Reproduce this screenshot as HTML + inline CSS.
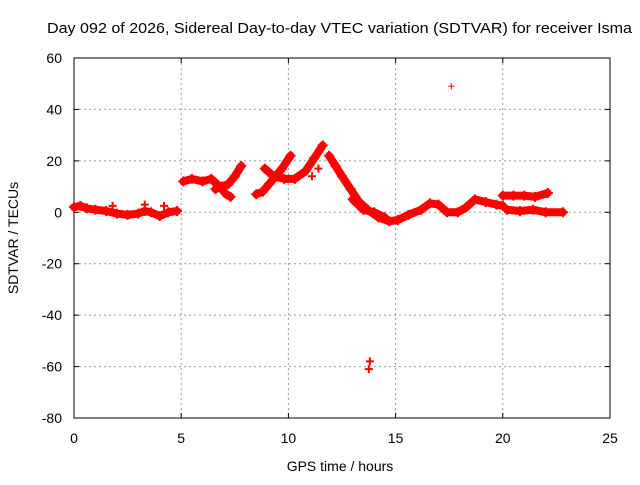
<!DOCTYPE html>
<html><head><meta charset="utf-8"><style>
body{margin:0;background:#fff}
svg text{font-family:"Liberation Sans",sans-serif;font-size:14px;fill:#000}
</style></head><body>
<svg id="chart" width="640" height="480">
<rect width="640" height="480" fill="#fff"/>
<text x="47" y="33" textLength="585" lengthAdjust="spacingAndGlyphs" style="font-size:15px">Day 092 of 2026, Sidereal Day-to-day VTEC variation (SDTVAR) for receiver Isma</text>
<text x="340" y="471" text-anchor="middle">GPS time / hours</text>
<text transform="translate(18,238) rotate(-90)" text-anchor="middle">SDTVAR / TECUs</text>
<g id="grid"></g><g id="axes"></g><g id="marks"></g>
</svg>
<script>
const xTicks=[0,5,10,15,20,25];
const yTicks=[60,40,20,0,-20,-40,-60,-80];
const trackA=[[0,2],[0.3,2.5],[0.6,1.5],[1,1],[1.5,0.5],[2,-0.5],[2.5,-1],[3,-0.5],[3.3,0.5],[3.6,0],[4,-1.5],[4.4,0],[4.8,0.5]];
const trackB1=[[5.1,12],[5.5,13],[6,12],[6.4,13],[6.8,10],[7.1,7],[7.3,6]];
const trackB2=[[6.6,9],[6.9,10],[7.2,11],[7.5,14],[7.8,18]];
const trackC1=[[8.5,7],[8.8,8],[9.1,11],[9.4,14],[9.7,17],[10.1,22]];
const trackC2=[[8.9,17],[9.3,14],[9.8,13],[10.3,13],[10.8,16],[11.2,21],[11.6,26]];
const trackD=[[11.9,22],[12.2,18],[12.5,14],[12.9,9],[13.3,4],[13.7,1],[14.2,-2],[14.7,-3.5],[15.1,-3],[15.6,-1],[16.2,1],[16.6,3.5],[17,3],[17.4,0],[17.9,0],[18.3,2],[18.7,5],[19.2,4],[19.7,3],[20,2.5]];
const trackD2=[[13,5],[13.5,1],[14,0],[14.5,-2]];
const trackE=[[20,6.5],[20.5,6.5],[21,6.5],[21.5,6],[22.1,7.5]];
const trackF=[[20.2,1],[20.8,0.5],[21.4,1],[22,0],[22.8,0]];
const outliers=[[17.6,49],[13.8,-58],[13.75,-61],[11.1,14],[11.4,17],[1.8,2.5],[3.3,3],[4.2,2.5]];
const X=h=>74+h*(536/25), Y=v=>58+(60-v)*(360/140);
const NS="http://www.w3.org/2000/svg";
function mk(t,a,p){const e=document.createElementNS(NS,t);for(const k in a)e.setAttribute(k,a[k]);p.appendChild(e);return e;}
const grid=document.getElementById('grid'),axes=document.getElementById('axes'),marks=document.getElementById('marks');
xTicks.forEach(t=>{
 if(t>0&&t<25){const l=mk('line',{x1:X(t),x2:X(t),y1:58,y2:418,stroke:'#999','stroke-dasharray':'2,3'},grid);
 
 }
 const tx=mk('text',{x:X(t),y:443,'text-anchor':'middle'},axes);tx.textContent=t;
 
 
 mk('line',{x1:X(t),x2:X(t),y1:418,y2:413,stroke:'#000'},axes);
 mk('line',{x1:X(t),x2:X(t),y1:58,y2:63,stroke:'#000'},axes);
});
yTicks.forEach(t=>{
 if(t<60&&t>-80){const l=mk('line',{x1:74,x2:610,y1:Y(t),y2:Y(t),stroke:'#999','stroke-dasharray':'2,3'},grid);
 
 }
 const tx=mk('text',{x:62,y:Y(t)+5,'text-anchor':'end'},axes);tx.textContent=t;
 
 
 mk('line',{x1:74,x2:79,y1:Y(t),y2:Y(t),stroke:'#000'},axes);
 mk('line',{x1:610,x2:605,y1:Y(t),y2:Y(t),stroke:'#000'},axes);
});
const fr=mk('rect',{x:74,y:58,width:536,height:360,fill:'none',stroke:'#000'},axes);


function plus(h,v,s){const x=X(h),y=Y(v);
 const p=mk('path',{d:`M${x-s},${y}H${x+s}M${x},${y-s}V${y+s}`,stroke:'#f00','stroke-width':s>3?2:1},marks);
 
 }
[trackA,trackB1,trackB2,trackC1,trackC2,trackD,trackD2,trackE,trackF].forEach(tr=>{
 const pl=mk('polyline',{points:tr.map(p=>X(p[0])+','+Y(p[1])).join(' '),fill:'none',stroke:'#f00','stroke-width':8,'stroke-linejoin':'round','stroke-linecap':'round'},marks);
 
 
 tr.forEach(p=>plus(p[0],p[1],5));
});
outliers.forEach((p,i)=>plus(p[0],p[1],i===0?3:4));
</script>
</body></html>
